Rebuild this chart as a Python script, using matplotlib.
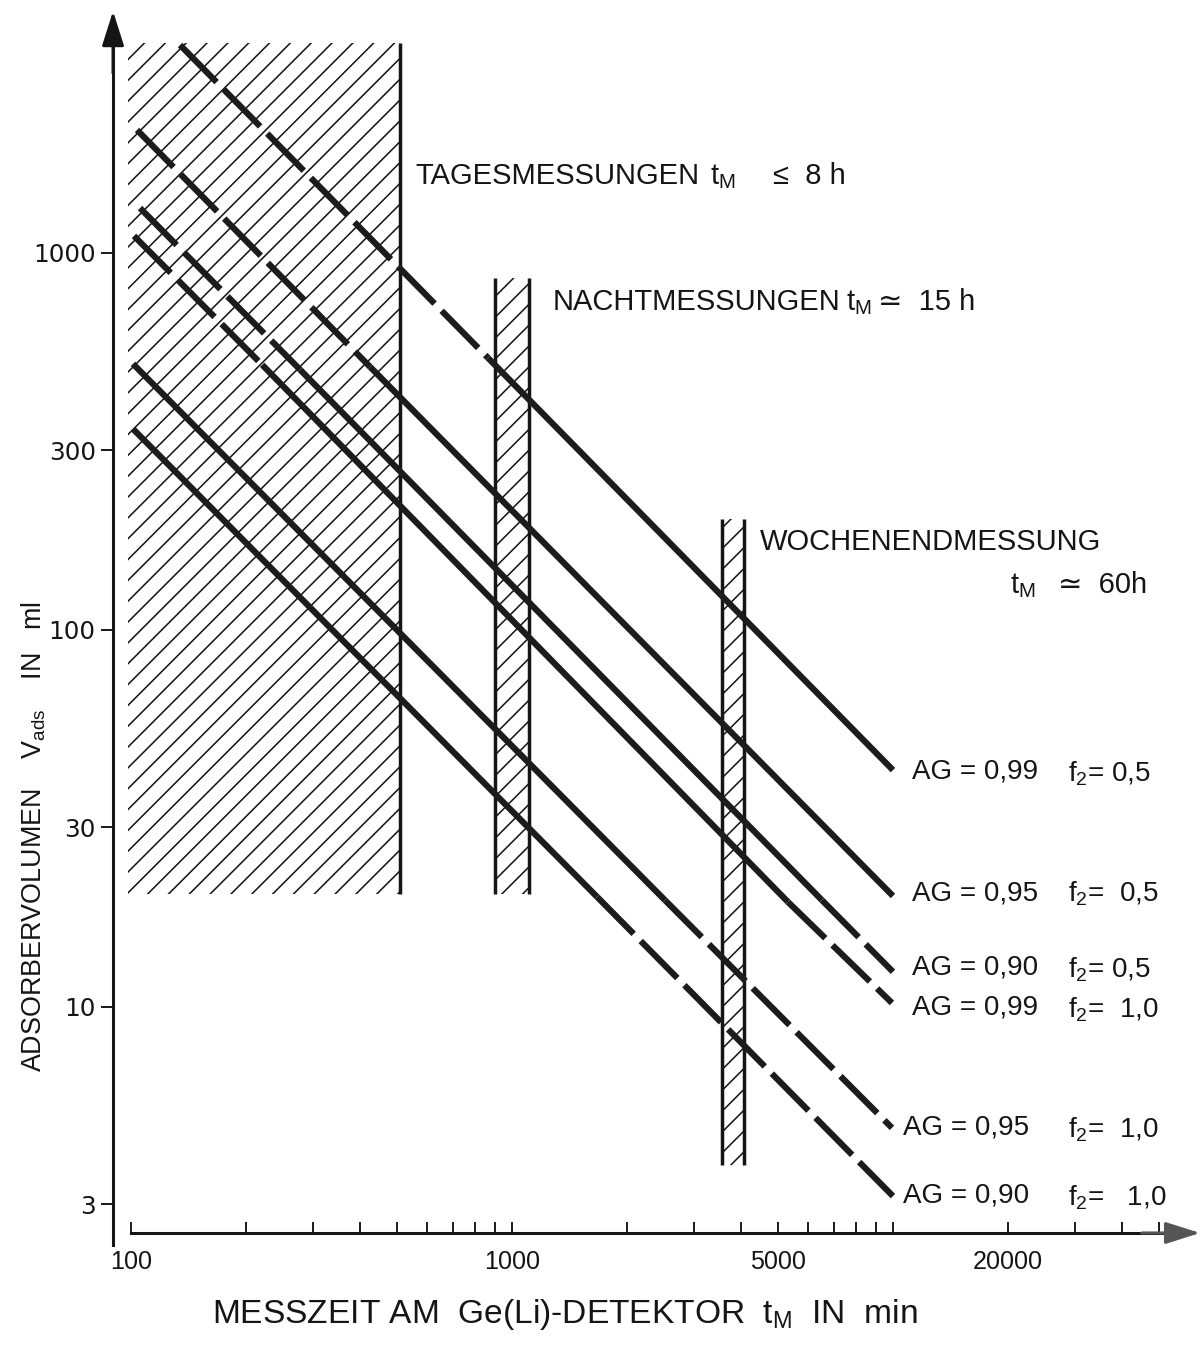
import matplotlib
matplotlib.use('Agg')
import matplotlib.pyplot as plt
from matplotlib.ticker import FixedLocator, NullLocator, FixedFormatter, NullFormatter

W, H, DPI = 1204, 1354, 125
plt.rcParams['lines.scale_dashes'] = False
plt.rcParams['hatch.linewidth'] = 0.9

REG = ['Liberation Sans', 'DejaVu Sans']

# ---------------- data ----------------
AG = ['0,99', '0,95', '0,90', '0,99', '0,95', '0,90']
F2 = ['0,5', '0,5', '0,5', '1,0', '1,0', '1,0']
# breakpoints of each line (t in min, V in ml) and style of each segment
t_lines = [[134.5, 865, 10000],
           [103.7, 424, 10000],
           [105.6, 278, 6511, 10000],
           [101.8, 221, 5300, 9940],
           [101.2, 2521, 9940],
           [101.2, 1672, 10000]]
V_lines = [[3562, 527, 42.5],
           [2120, 499, 19.7],
           [1316, 490, 19.2, 12.4],
           [1110, 505, 19.0, 10.25],
           [508, 19.2, 4.78],
           [341.5, 19.6, 3.15]]
seg_styles = [['dash', 'solid'],
              ['dash', 'solid'],
              ['dash', 'solid', 'dash'],
              ['dash', 'solid', 'dash'],
              ['solid', 'dash'],
              ['solid', 'dash']]

band_t = [[98, 508], [902, 1108], [3557, 4063]]
band_V = [[20, 3600], [20, 859], [3.81, 197]]
band_edges = [[508], [902, 1108], [3557, 4063]]

x_major = [100, 1000, 5000, 20000]
x_major_labels = ['100', '1000', '5000', '20000']
x_minor = [200, 300, 400, 500, 600, 700, 800, 900,
           2000, 3000, 4000, 6000, 7000, 8000, 9000, 10000,
           30000, 40000, 50000]
y_major = [3, 10, 30, 100, 300, 1000]
y_major_labels = ['3', '10', '30', '100', '300', '1000']

# ---------------- figure ----------------
fig = plt.figure(figsize=(W / DPI, H / DPI), dpi=DPI)
ax = fig.add_axes([0, 0, 1, 1])
ax.set_xscale('log')
ax.set_yscale('log')
ax.set_xlim(45.3, 65530)
ax.set_ylim(1.201, 4689)
ax.patch.set_visible(False)

INK = '#151515'
AXLW = 1.75
for s in ['top', 'right']:
    ax.spines[s].set_visible(False)
x_axis_at = 2.515
y_axis_at = 89.7
ax.spines['left'].set_position(('data', y_axis_at))
ax.spines['bottom'].set_position(('data', x_axis_at))
ax.spines['left'].set_bounds(2.34, 3900)
ax.spines['bottom'].set_bounds(100, 56000)
for s in ['left', 'bottom']:
    ax.spines[s].set_linewidth(AXLW)
    ax.spines[s].set_color(INK)

ax.xaxis.set_major_locator(FixedLocator(x_major))
ax.xaxis.set_major_formatter(FixedFormatter(x_major_labels))
ax.xaxis.set_minor_locator(FixedLocator(x_minor))
ax.xaxis.set_minor_formatter(NullFormatter())
ax.yaxis.set_major_locator(FixedLocator(y_major))
ax.yaxis.set_major_formatter(FixedFormatter(y_major_labels))
ax.yaxis.set_minor_locator(NullLocator())

ax.tick_params(axis='x', which='both', direction='in', length=6.5, width=1.1,
               color=INK, pad=10.0, labelsize=14.5, labelcolor=INK,
               labelfontfamily=REG)
ax.tick_params(axis='y', which='major', direction='out', length=6.8, width=1.1,
               color=INK, pad=3.2, labelsize=14.2, labelcolor=INK,
               labelfontfamily='DejaVu Sans')

# arrow heads of the axes
arrow_kw = dict(arrowstyle='-|>,head_length=0.85,head_width=0.27', color=INK,
                lw=AXLW, shrinkA=0, shrinkB=0, mutation_scale=20)
ax.annotate('', xy=(y_axis_at, 4380), xytext=(y_axis_at, 3000),
            xycoords='data', arrowprops=arrow_kw)
ax.annotate('', xy=(63970, x_axis_at), xytext=(45000, x_axis_at),
            xycoords='data', arrowprops=dict(arrow_kw, color='#555555'))

# hatched measurement regions
for bt, bv, be in zip(band_t, band_V, band_edges):
    ax.fill_between(bt, bv[0], bv[1], facecolor='none', edgecolor=INK,
                    linewidth=0, hatch='//', zorder=1)
    ax.vlines(be, bv[0], bv[1], color=INK, lw=2.0, zorder=2)

# lines
for tl, vl, st in zip(t_lines, V_lines, seg_styles):
    for j, style in enumerate(st):
        kw = dict(color='#1c1c1c', lw=3.6, solid_capstyle='butt',
                  dash_capstyle='butt', zorder=3)
        if style == 'dash':
            kw['dashes'] = (30, 5.8)
        ax.plot(tl[j:j + 2], vl[j:j + 2], **kw)


# ---------------- text ----------------
def put(s, x, y, size, family, **kw):
    ax.annotate(s, xy=(x, H - y), xycoords='figure pixels', ha=kw.pop('ha', 'left'),
                va=kw.pop('va', 'baseline'), fontsize=size, family=family,
                color=INK, **kw)


BAND_FS = 16.8
put('TAGESMESSUNGEN', 415, 184, BAND_FS, REG)
put(r'$\mathregular{t_M}$', 710, 184, BAND_FS, REG)
put('≤  8 h', 773, 184, BAND_FS, REG)
put('NACHTMESSUNGEN', 553, 310, BAND_FS, REG)
put(r'$\mathregular{t_M}$', 846, 310, BAND_FS, REG)
put('≃  15 h', 878, 310, BAND_FS, REG)
put('WOCHENENDMESSUNG', 760, 550, BAND_FS, REG)
put(r'$\mathregular{t_M}$', 1010, 593, BAND_FS, REG)
put('≃  60h', 1058, 593, BAND_FS, REG)

# curve labels
lab_x = [912, 912, 912, 912, 903, 903]
lab_y = [772, 893, 968, 1008, 1128, 1196]
f_gap = [' ', '  ', ' ', '  ', '  ', '   ']
for ag, f2, lx, ly, gap in zip(AG, F2, lab_x, lab_y, f_gap):
    put('AG = ' + ag, lx, ly, 16, REG, va='center')
    put(r'$\mathregular{f_2}$=' + gap + f2, 1068, ly + 9, 16, REG)

# axis titles
put(r'ADSORBERVOLUMEN    $\mathregular{V_{ads}}$    IN   ml', 42, 1072, 15.5, REG,
    rotation=90, rotation_mode='anchor')
put(r'MESSZEIT AM  Ge(Li)-DETEKTOR  $\mathregular{t_M}$  IN  min', 212, 1323, 19.3, REG)

fig.savefig('out.png', dpi=DPI)
